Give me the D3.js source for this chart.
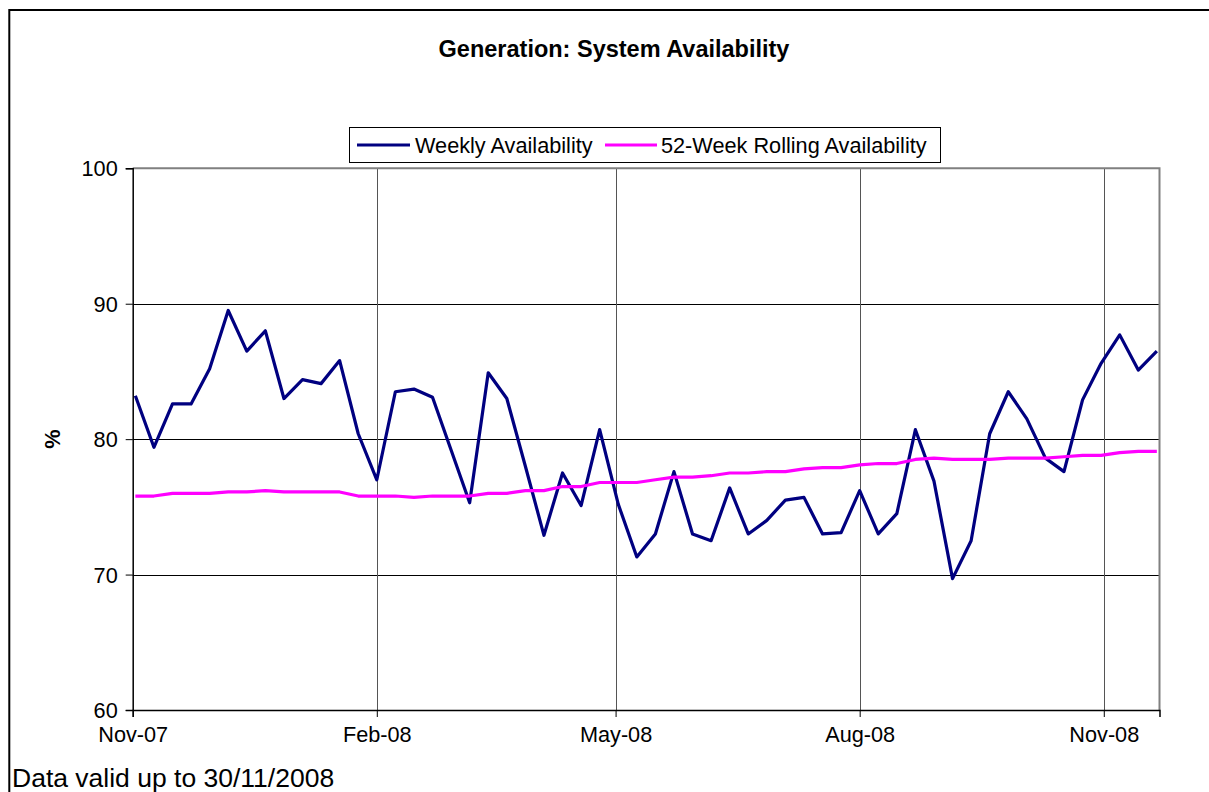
<!DOCTYPE html>
<html><head><meta charset="utf-8">
<script src="https://cdn.jsdelivr.net/npm/d3@7"></script>
<style>
body{margin:0;background:#fff}
svg{display:block;font-family:'Liberation Sans',Arial,sans-serif}
</style>
</head><body>
<svg id="c" width="1209" height="792"></svg>
<script>
const weekDates = [
"2007-11-02","2007-11-09","2007-11-16","2007-11-23","2007-11-30",
"2007-12-07","2007-12-14","2007-12-21","2007-12-28",
"2008-01-04","2008-01-11","2008-01-18","2008-01-25",
"2008-02-01","2008-02-08","2008-02-15","2008-02-22","2008-02-29",
"2008-03-07","2008-03-14","2008-03-21","2008-03-28",
"2008-04-04","2008-04-11","2008-04-18","2008-04-25",
"2008-05-02","2008-05-09","2008-05-16","2008-05-23","2008-05-30",
"2008-06-06","2008-06-13","2008-06-20","2008-06-27",
"2008-07-04","2008-07-11","2008-07-18","2008-07-25",
"2008-08-01","2008-08-08","2008-08-15","2008-08-22","2008-08-29",
"2008-09-05","2008-09-12","2008-09-19","2008-09-26",
"2008-10-03","2008-10-10","2008-10-17","2008-10-24","2008-10-31",
"2008-11-07","2008-11-14","2008-11-21"];
const weekly = [
83.2,79.4,82.6,82.6,85.2,89.5,86.5,88.0,83.0,84.4,84.1,85.8,80.4,77.0,
83.5,83.7,83.1,79.2,75.3,84.9,83.0,78.0,72.9,77.5,75.1,80.7,75.2,71.3,
73.0,77.6,73.0,72.5,76.4,73.0,74.0,75.5,75.7,73.0,73.1,76.2,73.0,74.5,
80.7,76.9,69.7,72.5,80.4,83.5,81.5,78.6,77.6,82.9,85.6,87.7,85.1,86.5];
const rolling = [
75.8,75.8,76.0,76.0,76.0,76.1,76.1,76.2,76.1,76.1,76.1,76.1,75.8,75.8,
75.8,75.7,75.8,75.8,75.8,76.0,76.0,76.2,76.2,76.5,76.5,76.8,76.8,76.8,
77.0,77.2,77.2,77.3,77.5,77.5,77.6,77.6,77.8,77.9,77.9,78.1,78.2,78.2,
78.5,78.6,78.5,78.5,78.5,78.6,78.6,78.6,78.7,78.8,78.8,79.0,79.1,79.1];
const yTicks = [60,70,80,90,100];
const xTickDates = ["2007-11-01","2008-02-01","2008-05-01","2008-08-01","2008-11-01"];
const xDomain = ["2007-11-01","2008-11-22"];
const seriesNames = ["Weekly Availability","52-Week Rolling Availability"];
const seriesColors = ["#000080","#FF00FF"];

const parse = d3.utcParse("%Y-%m-%d");
const fmt = d3.utcFormat("%b-%y");
const svg = d3.select("#c");
const L = 132.7, R = 1159.5, T = 168.3, B = 710;
const x = d3.scaleUtc().domain(xDomain.map(parse)).range([L, R]);
const y = d3.scaleLinear().domain([60,100]).range([B, T]);

// outer frame
svg.append("path").attr("d","M9.3,792V10H1209").attr("fill","none").attr("stroke","#000").attr("stroke-width",2);

// gridlines
svg.append("g").selectAll("line").data(yTicks.filter(v=>v>60&&v<100)).join("line")
  .attr("x1",L).attr("x2",R).attr("y1",d=>Math.round(y(d))+0.5).attr("y2",d=>Math.round(y(d))+0.5)
  .attr("stroke","#000").attr("stroke-width",1);
svg.append("g").selectAll("line").data(xTickDates.slice(1).map(parse)).join("line")
  .attr("x1",d=>Math.round(x(d))+0.5).attr("x2",d=>Math.round(x(d))+0.5).attr("y1",T).attr("y2",B)
  .attr("stroke","#555").attr("stroke-width",1);

// plot border top/right
svg.append("path").attr("d",`M${L},${T}H${R}V${B}`).attr("fill","none").attr("stroke","#808080").attr("stroke-width",2);

// axes
const yAxis = svg.append("g").attr("transform",`translate(${L},0)`)
  .call(d3.axisLeft(y).tickValues(yTicks).tickSize(7).tickPadding(8).tickFormat(d3.format("d")));
const xAxis = svg.append("g").attr("transform",`translate(0,${B})`)
  .call(d3.axisBottom(x).tickValues(xTickDates.map(parse)).tickSize(7).tickPadding(10).tickFormat(fmt));
[yAxis,xAxis].forEach(a=>{
  a.select(".domain").attr("stroke","#000").attr("stroke-width",1.5);
  a.selectAll(".tick line").attr("stroke","#000");
  a.selectAll(".tick text").attr("fill","#000").attr("font-size","21.7px").attr("font-family","'Liberation Sans',Arial,sans-serif");
});
yAxis.selectAll(".tick text").attr("dy","0.35em");
xAxis.selectAll(".tick text").attr("dy","0.71em");

// lines
const pts = weekDates.map(parse);
const line = d3.line().x((d,i)=>x(pts[i])).y(d=>y(d));
[weekly, rolling].forEach((s,k)=>{
  svg.append("path").datum(s).attr("d",line).attr("fill","none")
    .attr("stroke",seriesColors[k]).attr("stroke-width",3.2).attr("stroke-linejoin","round");
});

// title
svg.append("text").attr("x",614).attr("y",57).attr("text-anchor","middle")
  .attr("font-size","23.5px").attr("font-weight","bold").text("Generation: System Availability");

// legend
svg.append("rect").attr("x",349.5).attr("y",127.5).attr("width",591).attr("height",35)
  .attr("fill","#fff").attr("stroke","#000").attr("stroke-width",1);
const lg = [{x1:357,x2:410,tx:415},{x1:605,x2:657,tx:661}];
lg.forEach((p,k)=>{
  svg.append("line").attr("x1",p.x1).attr("x2",p.x2).attr("y1",145).attr("y2",145)
    .attr("stroke",seriesColors[k]).attr("stroke-width",3.2);
  svg.append("text").attr("x",p.tx).attr("y",152.5).attr("font-size","21.7px").text(seriesNames[k]);
});

// y label
svg.append("text").attr("transform",`translate(60,${(T+B)/2}) rotate(-90)`).attr("text-anchor","middle")
  .attr("font-size","21.7px").attr("font-weight","bold").text("%");

// footnote
svg.append("text").attr("x",12).attr("y",787).attr("font-size","26.5px").text("Data valid up to 30/11/2008");
</script>
</body></html>
